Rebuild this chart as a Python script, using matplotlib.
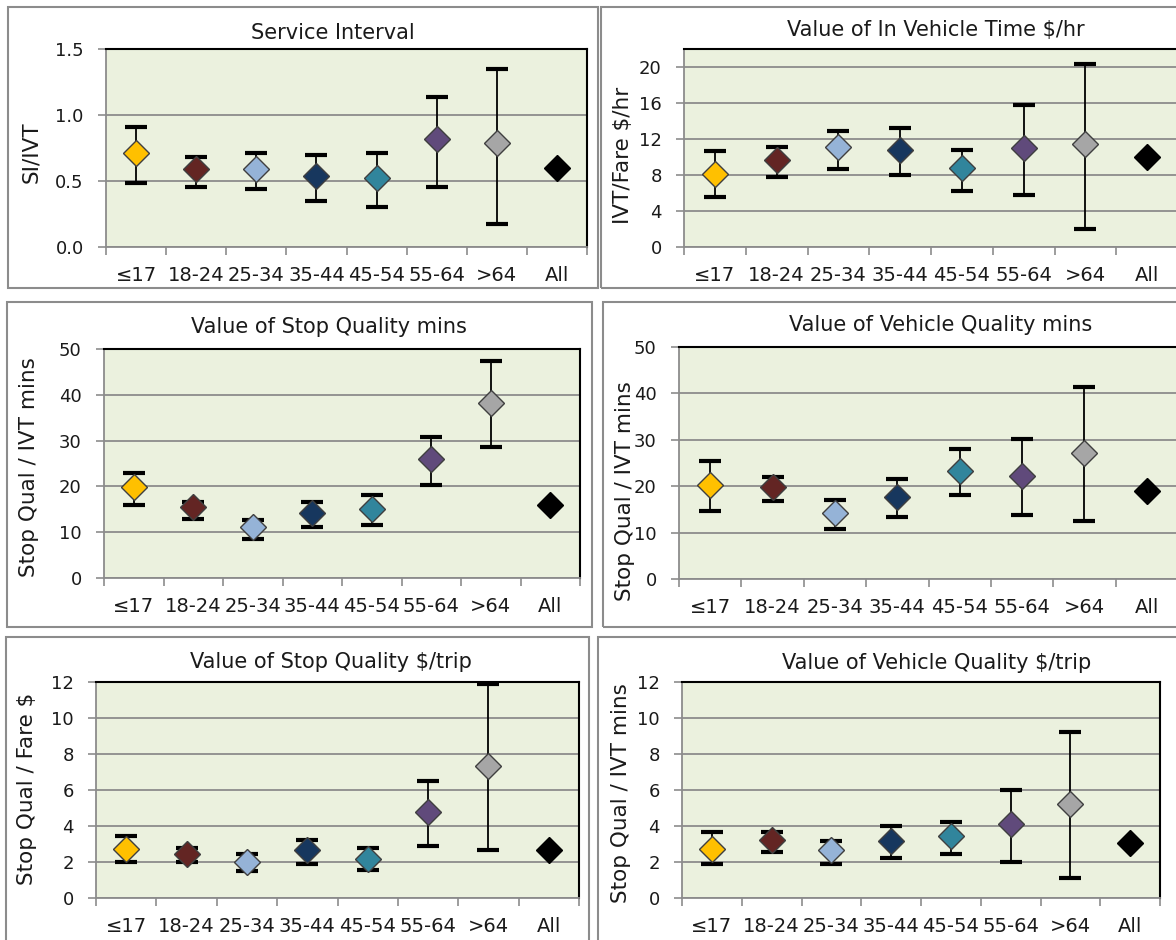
import numpy as np
import matplotlib
matplotlib.use("Agg")
import matplotlib.pyplot as plt
from matplotlib.patches import Rectangle

# ---- data ----
ages = ["≤17", "18-24", "25-34", "35-44", "45-54", "55-64", ">64", "All"]
colors = ["#FFC000", "#632523", "#95B3D7", "#17375E", "#31859C", "#604A7B", "#A6A6A6", "#000000"]

# Service Interval (SI/IVT)
si_mean = [0.71, 0.59, 0.59, 0.54, 0.52, 0.82, 0.785, 0.60]
si_lo = [0.486, 0.451, 0.438, 0.347, 0.304, 0.451, 0.172]
si_hi = [0.907, 0.684, 0.709, 0.697, 0.709, 1.135, 1.350]

# Value of In Vehicle Time $/hr
ivt_mean = [8.15, 9.7, 11.1, 10.8, 8.8, 11.05, 11.5, 9.95]
ivt_lo = [5.56, 7.78, 8.63, 8.0, 6.19, 5.74, 1.96]
ivt_hi = [10.63, 11.11, 12.85, 13.26, 10.81, 15.74, 20.37]

# Value of Stop Quality mins
sqm_mean = [19.9, 15.5, 11.1, 14.2, 15.1, 26.0, 38.2, 15.9]
sqm_lo = [15.9, 12.95, 8.6, 11.1, 11.6, 20.4, 28.6]
sqm_hi = [22.9, 16.7, 12.6, 16.7, 18.1, 30.8, 47.3]

# Value of Vehicle Quality mins
vqm_mean = [20.2, 19.8, 14.2, 17.7, 23.2, 22.3, 27.2, 18.9]
vqm_lo = [14.7, 16.8, 10.8, 13.4, 18.2, 13.9, 12.6]
vqm_hi = [25.4, 22.0, 16.95, 21.55, 28.1, 30.2, 41.4]

# Value of Stop Quality $/trip
sqd_mean = [2.74, 2.46, 2.0, 2.65, 2.19, 4.78, 7.33, 2.65]
sqd_lo = [2.0, 2.0, 1.5, 1.91, 1.54, 2.89, 2.65]
sqd_hi = [3.44, 2.78, 2.43, 3.20, 2.78, 6.48, 11.9]

# Value of Vehicle Quality $/trip
vqd_mean = [2.74, 3.2, 2.65, 3.17, 3.43, 4.09, 5.2, 3.07]
vqd_lo = [1.91, 2.56, 1.91, 2.22, 2.44, 2.0, 1.11]
vqd_hi = [3.67, 3.67, 3.15, 4.0, 4.22, 6.02, 9.22]

W, H = 1176, 940
plt.rcParams["font.family"] = ["DejaVu Sans"]
TXT = "#1a1a1a"

fig = plt.figure(figsize=(W / 100, H / 100), dpi=100)


def px(l, t, r, b):
    return [l / W, 1 - b / H, (r - l) / W, (b - t) / H]


def frame(l, t, r, b):
    fig.add_artist(Rectangle((l / W, 1 - b / H), (r - l) / W, (b - t) / H,
                             transform=fig.transFigure, fill=False,
                             edgecolor="#8c8c8c", linewidth=1.5))


def panel(rect, mean, lo, hi, ylim, yticks, ytl, title, tpos, ylabel, lpos):
    ax = fig.add_axes(px(*rect))
    ax.set_facecolor("#EBF1DE")
    x = np.arange(len(ages))
    n = len(lo)
    m = np.array(mean[:n])
    yerr = [m - np.array(lo), np.array(hi) - m]
    ax.errorbar(x[:n], m, yerr=yerr, fmt="none", ecolor="black",
                elinewidth=1.3, capsize=8, capthick=3, zorder=3)
    for i in range(len(ages)):
        ec = "black" if i == len(ages) - 1 else "#3f3f3f"
        ax.plot(x[i], mean[i], marker="D", ms=13, mfc=colors[i], mec=ec,
                mew=1.0, zorder=4)
    ax.set_xlim(-0.5, len(ages) - 0.5)
    ax.set_ylim(*ylim)
    ax.set_yticks(yticks)
    ax.set_yticklabels(ytl)
    ax.yaxis.grid(True, color="#8c8c8c", linewidth=1.3, zorder=1)
    ax.set_axisbelow(True)
    ax.set_xticks(np.arange(len(ages) + 1) - 0.5)
    ax.set_xticklabels([])
    ax.set_xticks(x, minor=True)
    ax.set_xticklabels(ages, minor=True)
    ax.tick_params(axis="x", which="major", length=6, width=1.2, color="#8c8c8c")
    ax.tick_params(axis="x", which="minor", length=0, pad=14,
                   labelsize=14, labelcolor=TXT)
    ax.tick_params(axis="y", length=6, width=1.2, color="#8c8c8c", pad=10,
                   labelsize=13, labelcolor=TXT)
    for s in ("left", "bottom"):
        ax.spines[s].set_color("#8c8c8c")
        ax.spines[s].set_linewidth(1.3)
    for s in ("top", "right"):
        ax.spines[s].set_color("black")
        ax.spines[s].set_linewidth(1.5)
    fig.text(tpos[0] / W, 1 - tpos[1] / H, title, ha="center", va="center",
             fontsize=15, color=TXT)
    fig.text(lpos[0] / W, 1 - lpos[1] / H, ylabel, ha="center", va="center",
             rotation=90, fontsize=15.5, color=TXT)
    return ax


frame(8, 7, 598, 288)
frame(601, 7, 1185, 288)
frame(7, 302, 592, 627)
frame(603, 302, 1185, 627)
frame(6, 637, 589, 950)
frame(598, 637, 1185, 950)

panel((106, 49, 587, 247), si_mean, si_lo, si_hi, (0, 1.5),
      [0, 0.5, 1.0, 1.5], ["0.0", "0.5", "1.0", "1.5"],
      "Service Interval", (333, 33), "SI/IVT", (31, 152))
panel((684, 49, 1178, 247), ivt_mean, ivt_lo, ivt_hi, (0, 22),
      [0, 4, 8, 12, 16, 20], ["0", "4", "8", "12", "16", "20"],
      "Value of In Vehicle Time $/hr", (936, 30), "IVT/Fare $/hr", (623, 155))
panel((104, 349, 580, 578), sqm_mean, sqm_lo, sqm_hi, (0, 50),
      [0, 10, 20, 30, 40, 50], ["0", "10", "20", "30", "40", "50"],
      "Value of Stop Quality mins", (329, 327), "Stop Qual / IVT mins", (29, 467))
panel((679, 347, 1178, 579), vqm_mean, vqm_lo, vqm_hi, (0, 50),
      [0, 10, 20, 30, 40, 50], ["0", "10", "20", "30", "40", "50"],
      "Value of Vehicle Quality mins", (941, 325), "Stop Qual / IVT mins", (625, 491))
panel((96, 682, 579, 898), sqd_mean, sqd_lo, sqd_hi, (0, 12),
      [0, 2, 4, 6, 8, 10, 12], ["0", "2", "4", "6", "8", "10", "12"],
      "Value of Stop Quality $/trip", (331, 662), "Stop Qual / Fare $", (27, 789))
panel((682, 682, 1160, 898), vqd_mean, vqd_lo, vqd_hi, (0, 12),
      [0, 2, 4, 6, 8, 10, 12], ["0", "2", "4", "6", "8", "10", "12"],
      "Value of Vehicle Quality $/trip", (937, 663), "Stop Qual / IVT mins", (621, 793))

fig.savefig("out.png", dpi=100)
